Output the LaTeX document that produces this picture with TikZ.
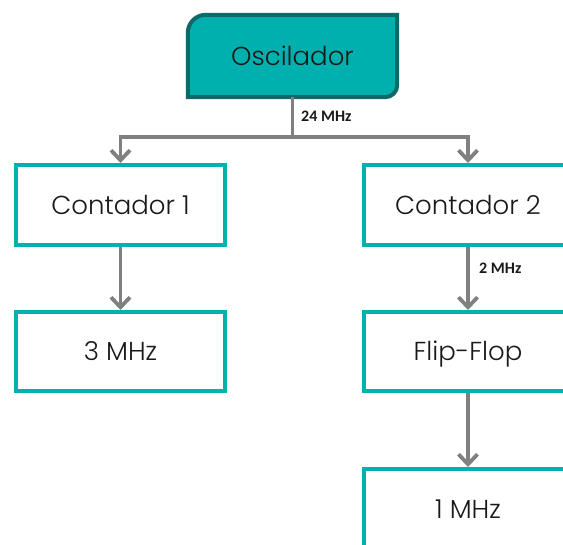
\documentclass[tikz,border=0pt]{standalone}
\usepackage{fontspec}
\setmainfont{Poppins}[UprightFont=* Light]
\newfontfamily\labelfont{Carlito}
\usetikzlibrary{arrows.meta}
\definecolor{tealline}{RGB}{0,178,172}
\definecolor{tealfill}{RGB}{0,176,174}
\definecolor{tealdark}{RGB}{16,104,104}
\definecolor{connector}{RGB}{128,128,128}
\definecolor{textdark}{RGB}{25,25,25}
\tikzset{
  stage/.style={draw=tealline, line width=4pt, fill=white, rectangle,
    minimum width=209pt, minimum height=80pt, inner sep=0pt,
    text height=19pt, text depth=0pt,
    font=\fontsize{26}{30}\selectfont, text=textdark},
  osc/.style={rectangle, minimum width=209pt, minimum height=82pt, inner sep=0pt,
    text height=19pt, text depth=0pt,
    font=\fontsize{26}{30}\selectfont, text=textdark},
  oscline/.style={draw=tealdark, fill=tealfill, line width=4pt},
  wire/.style={draw=connector, line width=3.8pt},
  flow/.style={wire, -{Straight Barb[length=10pt,width=19pt]}},
  freq/.style={font=\labelfont\bfseries\fontsize{16}{18}\selectfont, text=textdark, anchor=west, inner sep=0pt}
}
\begin{document}
\begin{tikzpicture}[x=1pt,y=-1pt]
\useasboundingbox (0,0) rectangle (563,545);
\fill[white] (0,0) rectangle (563,545);

% oscillator block: rounded top-left and bottom-right corners
\node[osc] (osc) at (292.5,56) {};
\draw[oscline] (osc.north) -- (osc.north east)
  [rounded corners=12pt] -- (osc.south east)
  [sharp corners] -- (osc.south west)
  [rounded corners=18pt] -- (osc.north west)
  [sharp corners] -- cycle;
\node[osc] (osctext) at (osc.center) {Oscilador};

% counters and dividers
\node[stage] (c1) at (120.5,205) {Contador 1};
\node[stage] (c2) at (468,205) {Contador 2};
\node[stage, minimum height=79pt] (f3) at (120.5,351.5) {3 MHz};
\node[stage, minimum height=79pt] (ff) at (468,351.5) {Flip-Flop};
\node[stage] (f1) at (468,509) {1 MHz};

% clock distribution
\coordinate (bus) at (292.5,137);
\draw[wire] (osc.south) -- (bus);
\draw[flow] (bus) -| (c1.north);
\draw[flow] (bus) -| (c2.north);
\draw[flow] (c1) -- (f3);
\draw[flow] (c2) -- (ff);
\draw[flow] (ff) -- (f1);

\node[freq] (l24) at (301,116) {24 MHz};
\node[freq] (l2) at (479,268) {2 MHz};
\end{tikzpicture}
\end{document}
